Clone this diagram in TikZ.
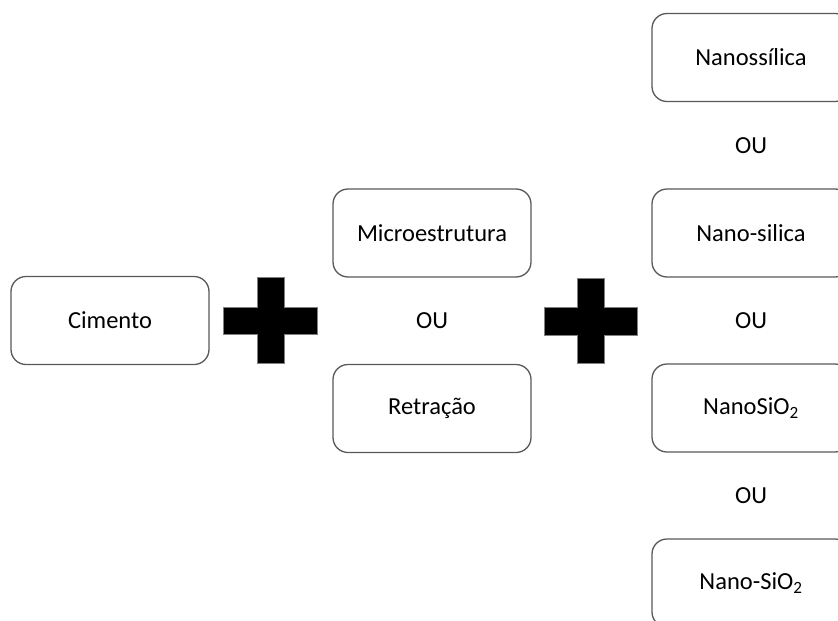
\documentclass[tikz,border=0pt]{standalone}
\usepackage{fontspec}
\setmainfont{Carlito}
\definecolor{edgegray}{RGB}{89,89,89}
\tikzset{
  box/.style={draw=edgegray, line width=1.3pt, rounded corners=15pt, fill=white,
    minimum width=198pt, minimum height=88pt, inner sep=0pt, font=\fontsize{24.5}{29}\selectfont},
  oulabel/.style={inner sep=0pt, font=\fontsize{24.5}{29}\selectfont},
  plussign/.style={fill=black, draw=gray, line width=0.5pt}
}
\begin{document}
\begin{tikzpicture}[x=1pt,y=1pt]
\useasboundingbox (0,0) rectangle (838,-621);
\clip (0,0) rectangle (838,-621);
% left
\node[box] (cim) at (110,-320.5) {Cimento};
% middle
\node[box] (micro) at (432,-233) {Microestrutura};
\node[oulabel] (ou1) at (432,-321) {OU};
\node[box] (retr) at (432,-408.5) {Retração};
% right
\node[box] (n1) at (751,-57.5) {Nanossílica};
\node[oulabel] (ou2) at (751,-146) {OU};
\node[box] (n2) at (751,-233) {Nano-silica};
\node[oulabel] (ou3) at (751,-321) {OU};
\node[box] (n3) at (751,-408) {NanoSiO\textsubscript{2}};
\node[oulabel] (ou4) at (751,-496) {OU};
\node[box] (n4) at (751,-583) {Nano-SiO\textsubscript{2}};
% plus signs
\fill[plussign] (257,-277) -- (284,-277) -- (284,-307) -- (317,-307) -- (317,-334) -- (284,-334)
  -- (284,-363) -- (257,-363) -- (257,-334) -- (223,-334) -- (223,-307) -- (257,-307) -- cycle;
\fill[plussign] (577,-278) -- (604,-278) -- (604,-307) -- (637,-307) -- (637,-335) -- (604,-335)
  -- (604,-363) -- (577,-363) -- (577,-335) -- (544,-335) -- (544,-307) -- (577,-307) -- cycle;
\end{tikzpicture}
\end{document}
